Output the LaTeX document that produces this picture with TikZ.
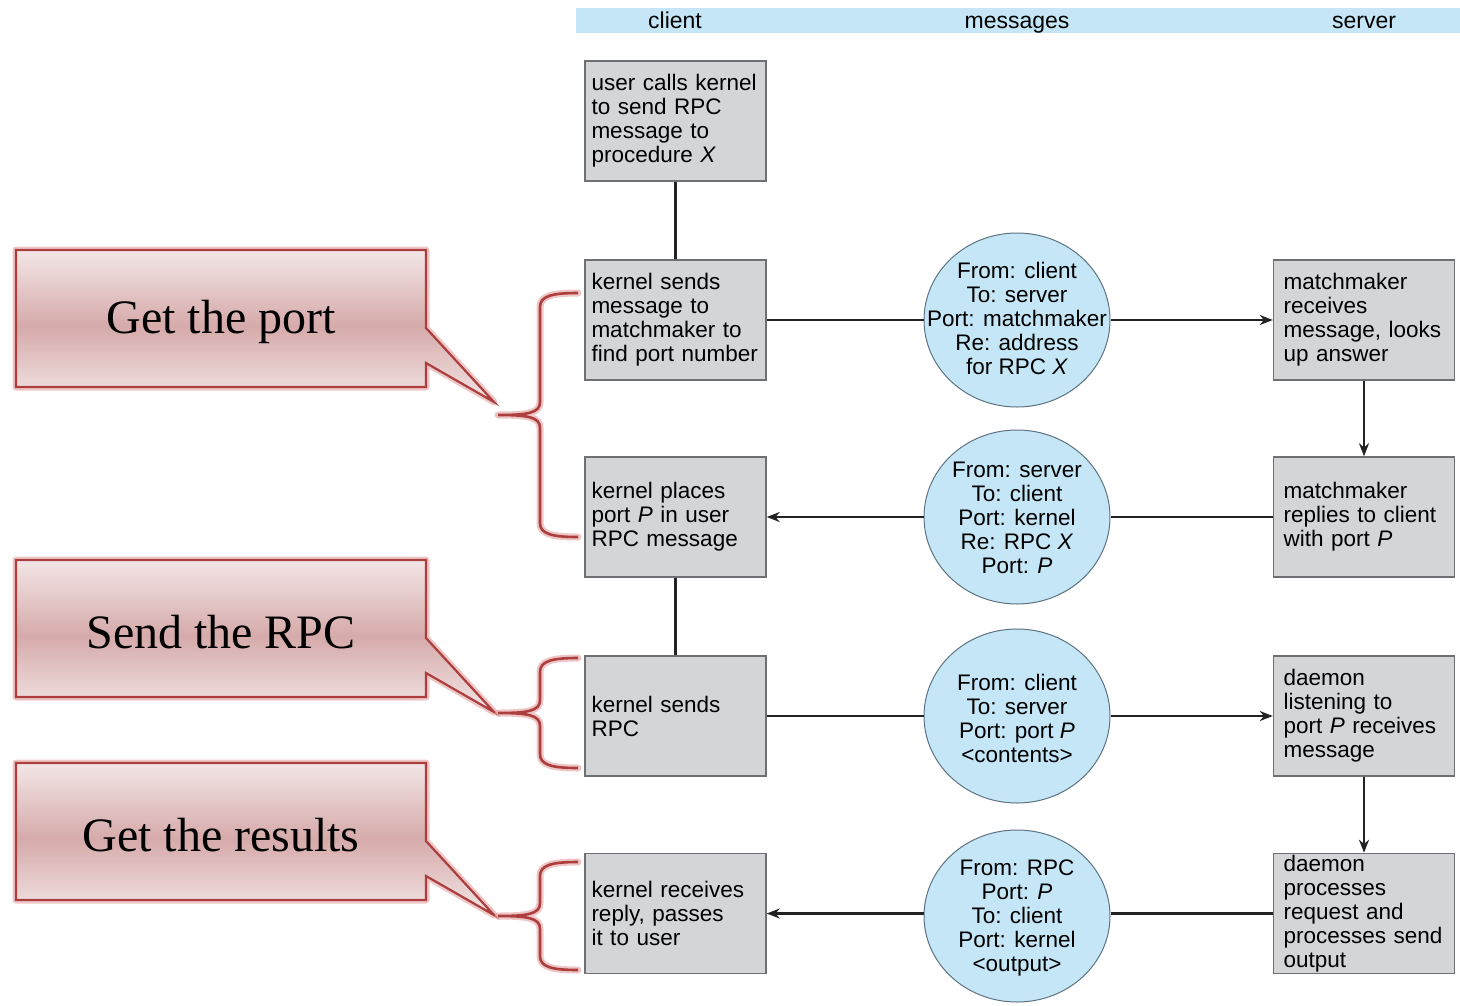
\documentclass[tikz,border=0pt]{standalone}
\usepackage{fontspec}
\setmainfont{Liberation Sans}
\newfontfamily\calloutfont{Liberation Serif}
\usetikzlibrary{shapes.geometric,arrows.meta}
\definecolor{boxgray}{RGB}{212,213,215}
\definecolor{msgblue}{RGB}{196,230,246}
\definecolor{hdrblue}{RGB}{196,230,246}
\definecolor{linedark}{RGB}{35,35,35}
\definecolor{boxedge}{RGB}{110,112,115}
\definecolor{msgedge}{RGB}{95,115,130}
\definecolor{calloutedge}{RGB}{172,62,62}
\definecolor{calloutglow}{RGB}{226,160,160}
\definecolor{calloutlight}{RGB}{243,230,230}
\definecolor{calloutmid}{RGB}{214,170,170}
\tikzset{
  procbox/.style={draw=boxedge, line width=1.5pt, fill=boxgray,
    minimum width=181pt, minimum height=120pt, text width=168pt,
    inner xsep=6.5pt, inner ysep=0pt, align=left,
    font=\fontsize{22.5}{24}\selectfont},
  srvbox/.style={procbox, text width=161pt, inner xsep=10pt},
  msg/.style={ellipse, draw=msgedge, line width=1pt, fill=msgblue,
    inner sep=0pt, minimum width=186pt, minimum height=174pt},
  msgtext/.style={inner sep=0pt, align=center, font=\fontsize{22.5}{24}\selectfont},
  conn/.style={draw=linedark, line width=2.8pt},
  arr/.style={conn, -{Stealth[length=13pt,width=10pt]}},
  hdr/.style={font=\fontsize{23}{24}\selectfont, inner sep=0pt, anchor=base},
  calloutglowline/.style={draw=calloutglow, line width=7pt, opacity=0.6, line join=round, line cap=round},
  callouttext/.style={font=\calloutfont\fontsize{48}{52}\selectfont, inner sep=0pt},
}
\begin{document}
\begin{tikzpicture}[x=1pt,y=-1pt]
\useasboundingbox (0,0) rectangle (1460,1005);
% header
\fill[hdrblue] (576,8) rectangle (1460,33);
\node[hdr] (hclient) at (675,28) {client};
\node[hdr] (hmsg) at (1017,28) {messages};
\node[hdr] (hserver) at (1364,28) {server};
% client boxes
\node[procbox] (c1) at (675.5,121) {user calls kernel\\to send RPC\\message to\\procedure \textit{X}};
\node[procbox] (c2) at (675.5,320) {kernel sends\\message to\\matchmaker to\\find port number};
\node[procbox] (c3) at (675.5,517) {kernel places\\port \textit{P} in user\\RPC message};
\node[procbox] (c4) at (675.5,716) {kernel sends\\RPC};
\node[procbox] (c5) at (675.5,913.5) {kernel receives\\reply, passes\\it to user};
% server boxes
\node[srvbox] (s2) at (1364,320) {matchmaker\\receives\\message, looks\\up answer};
\node[srvbox] (s3) at (1364,517) {matchmaker\\replies to client\\with port \textit{P}};
\node[srvbox] (s4) at (1364,716) {daemon\\listening to\\port \textit{P} receives\\message};
\node[srvbox] (s5) at (1364,913.5) {daemon\\processes\\request and\\processes send\\output};
% messages
\node[msg] (m1) at (1017,320) {};
\node[msgtext] (m1t) at (1017,318) {From: client\\To: server\\Port: matchmaker\\Re: address\\for RPC \textit{X}};
\node[msg] (m2) at (1017,517) {};
\node[msgtext] (m2t) at (1017,518) {From: server\\To: client\\Port: kernel\\Re: RPC \textit{X}\\Port: \textit{P}};
\node[msg] (m3) at (1017,716) {};
\node[msgtext] (m3t) at (1017,718) {From: client\\To: server\\Port: port \textit{P}\\{<}contents{>}};
\node[msg, minimum height=172pt] (m4) at (1017,916) {};
\node[msgtext] (m4t) at (1017,918) {From: RPC\\Port: \textit{P}\\To: client\\Port: kernel\\{<}output{>}};
% connectors
\draw[conn] (c1) -- (c2);
\draw[conn] (c2) -- (m1);
\draw[arr] (m1) -- (s2);
\draw[arr] (s2) -- (s3);
\draw[conn] (s3) -- (m2);
\draw[arr] (m2) -- (c3);
\draw[conn] (c3) -- (c4);
\draw[conn] (c4) -- (m3);
\draw[arr] (m3) -- (s4);
\draw[arr] (s4) -- (s5);
\draw[conn] (s5.west) -- (s5.west -| m4.east);
\draw[arr] (c5.east -| m4.west) -- (c5.east);
% callouts
\foreach \ty/\txt/\nm in {250/Get the port/cpa, 560/Send the RPC/cpb, 763/Get the results/cpc}{
  \draw[calloutglowline] (16,\ty) -- (426,\ty) -- (426,{\ty+78}) -- (494,{\ty+152}) -- (426,{\ty+113}) -- (426,{\ty+137}) -- (16,{\ty+137}) -- cycle;
  \shade[top color=calloutlight, bottom color=calloutlight, middle color=calloutmid]
    (16,\ty) -- (426,\ty) -- (426,{\ty+78}) -- (494,{\ty+152}) -- (426,{\ty+113}) -- (426,{\ty+137}) -- (16,{\ty+137}) -- cycle;
  \draw[calloutedge, line width=2.2pt, line join=miter]
    (16,\ty) -- (426,\ty) -- (426,{\ty+78}) -- (494,{\ty+152}) -- (426,{\ty+113}) -- (426,{\ty+137}) -- (16,{\ty+137}) -- cycle;
  \node[callouttext] (\nm) at (221,{\ty+72}) {\txt};
}
% braces
\foreach \bt/\bm/\bb in {293/415/537, 658/713/768, 862/916/970}{
  \draw[calloutglowline]
    (578,\bt) .. controls (552,\bt) and (540,{\bt+3}) .. (540,{\bt+14})
    -- (540,{\bm-13}) .. controls (540,{\bm-2}) and (528,\bm) .. (498,\bm)
    .. controls (528,\bm) and (540,{\bm+2}) .. (540,{\bm+13})
    -- (540,{\bb-14}) .. controls (540,{\bb-3}) and (552,\bb) .. (578,\bb);
  \draw[calloutedge, line width=2.6pt]
    (578,\bt) .. controls (552,\bt) and (540,{\bt+3}) .. (540,{\bt+14})
    -- (540,{\bm-13}) .. controls (540,{\bm-2}) and (528,\bm) .. (498,\bm)
    .. controls (528,\bm) and (540,{\bm+2}) .. (540,{\bm+13})
    -- (540,{\bb-14}) .. controls (540,{\bb-3}) and (552,\bb) .. (578,\bb);
}
\end{tikzpicture}
\end{document}
